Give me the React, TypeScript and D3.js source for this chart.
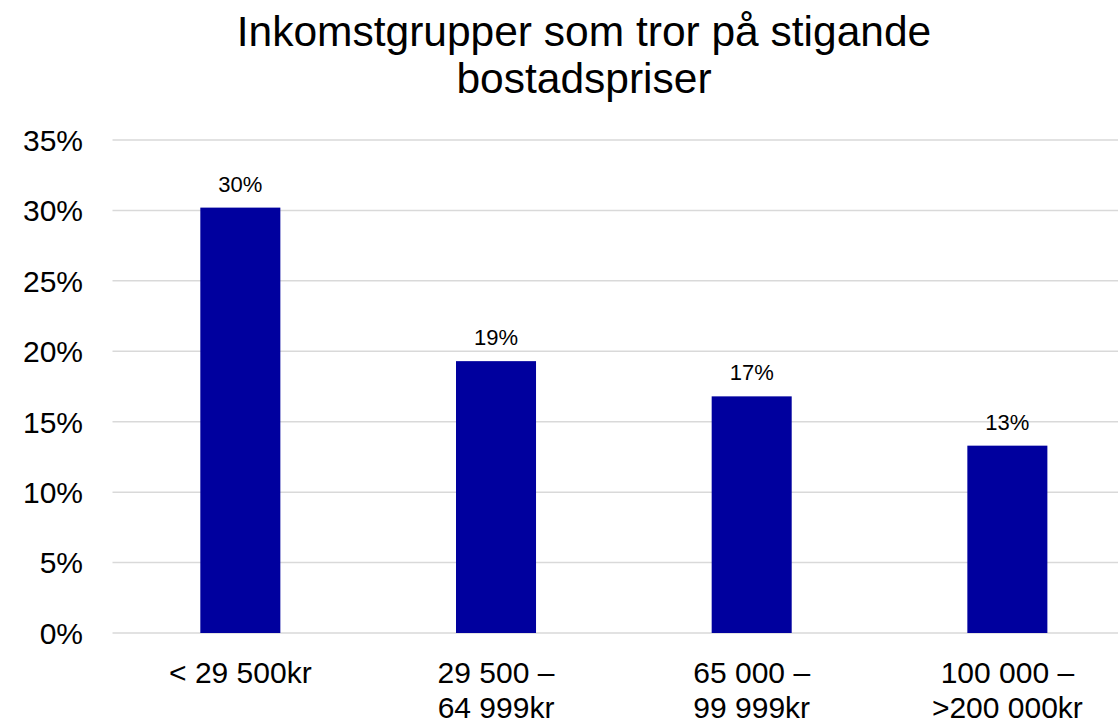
import * as d3 from "d3";

const TITLE = ["Inkomstgrupper som tror på stigande", "bostadspriser"];
const categories = ["< 29 500kr", "29 500 –\n64 999kr", "65 000 –\n99 999kr", "100 000 –\n>200 000kr"];
const values = [0.302, 0.193, 0.168, 0.133];
const valueLabels = ["30%", "19%", "17%", "13%"];
const yTicks = [0, 0.05, 0.1, 0.15, 0.2, 0.25, 0.3, 0.35];

const width = 1118;
const height = 722;
const FONT = "'Liberation Sans', Arial, sans-serif";

export default function App() {
    // plot area runs past the right edge, the chart is cropped there
    const x = d3.scaleBand<string>()
        .domain(categories)
        .range([112.5, 1135.2])
        .paddingInner(0.687)
        .paddingOuter(0.687 / 2);

    const y = d3.scaleLinear().domain([0, 0.35]).range([633, 140]);
    const fmt = d3.format(".0%");

    return (
        <svg width={width} height={height}
            style={{ position: "absolute", left: 0, top: 0, background: "#fff" }}
            fontFamily={FONT}>
            <text textAnchor="middle" fontSize={42.5} fill="#000">
                {TITLE.map((t, i) => (
                    <tspan key={i} x={584} y={46 + i * 47}>{t}</tspan>
                ))}
            </text>

            {yTicks.map(t => (
                <g key={t}>
                    <line x1={112.5} x2={width} y1={y(t)} y2={y(t)} stroke="#d9d9d9" strokeWidth={1.5} />
                    <text x={83} y={y(t)} dy="0.36em" textAnchor="end" fontSize={30} fill="#000">{fmt(t)}</text>
                </g>
            ))}

            {categories.map((c, i) => (
                <g key={c}>
                    <rect x={x(c)} y={y(values[i])} width={x.bandwidth()} height={y(0) - y(values[i])}
                        fill="#00009e" />
                    <text x={x(c)! + x.bandwidth() / 2} y={y(values[i]) - 16} textAnchor="middle"
                        fontSize={22} fill="#000">{valueLabels[i]}</text>
                    <text textAnchor="middle" fontSize={30} fill="#000">
                        {c.split("\n").map((line, j) => (
                            <tspan key={j} x={x(c)! + x.bandwidth() / 2} y={683 + j * 35}>{line}</tspan>
                        ))}
                    </text>
                </g>
            ))}
        </svg>
    );
}
